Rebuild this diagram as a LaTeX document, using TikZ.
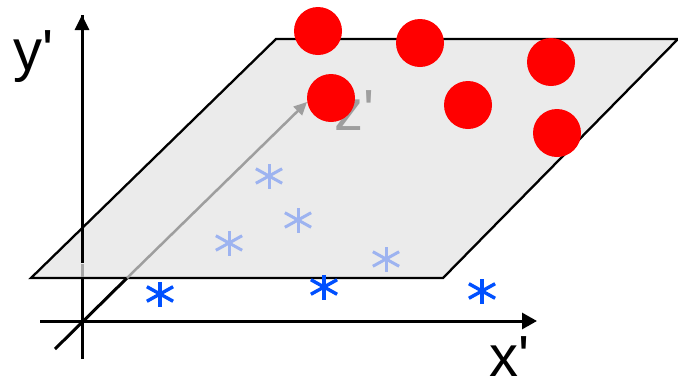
\documentclass[tikz,border=0pt]{standalone}
\usepackage{fontspec}
\setmainfont{Liberation Sans}[Ligatures=TeXOff]
\usetikzlibrary{arrows.meta}
\definecolor{planegray}{HTML}{EBEBEB}
\definecolor{zgray}{HTML}{9E9E9E}
\definecolor{darkstar}{HTML}{0050FF}
\definecolor{lightstar}{HTML}{9DB3F0}
\begin{document}
\begin{tikzpicture}[x=1pt,y=-1pt,
  axis/.style={line width=3pt,black},
  planeedge/.style={line width=2.3pt,black,fill=planegray,line join=miter},
  ball/.style={circle,fill=red,minimum size=48pt,inner sep=0pt},
  lbl/.style={font=\fontsize{58}{60}\selectfont,inner sep=0pt,anchor=base west},
  starlight/.style={lightstar,line width=3pt},
  stardark/.style={darkstar,line width=3.4pt},
  pics/asterisk/.style={code={
    \draw[#1] (90:12.5) -- (270:12.5);
    \draw[#1] (29:15) -- (209:15);
    \draw[#1] (151:15) -- (331:15);
  }}
]
\useasboundingbox (0,0) rectangle (678,381);
% coordinates
\coordinate (ybot) at (82,359);
\coordinate (ytop) at (82,15);
\coordinate (xleft) at (40,321);
\coordinate (xright) at (537,321);
\coordinate (zbot) at (55,349);
\coordinate (zmid) at (127,278);
\coordinate (ztop) at (307,102);
\coordinate (pbl) at (31,278);
\coordinate (pbr) at (443,278);
\coordinate (ptr) at (678,39);
\coordinate (ptl) at (276,39);
% axes behind plane
\draw[axis] (ybot) -- (ytop);
\draw[axis] (zbot) -- (zmid);
% plane
\draw[planeedge] (pbl) -- (pbr) -- (ptr) -- (ptl) -- cycle;
% y axis over plane (dark part) and faint part
\draw[axis] (82,263) -- (ytop);
\draw[axis,-{Triangle[length=15pt,width=14pt]}] (82,100) -- (ytop);
\draw[line width=3pt,black!35] (82,264) -- (82,277);
% x axis
\draw[axis,-{Triangle[length=15pt,width=16pt]}] (xleft) -- (xright);
% z' label and arrow
\node[lbl,text=zgray] (zl) at (334,130) {z'};
\draw[line width=2.5pt,zgray,-{Triangle[length=13pt,width=12pt]}] (zmid) -- (ztop);
% labels
\node[lbl] (yl) at (13,70) {y'};
\node[lbl] (xl) at (489,376) {\raisebox{0pt}[\height][0pt]{x'}};
% red balls
\node[ball] (b1) at (318,31) {};
\node[ball] (b2) at (420,43) {};
\node[ball] (b3) at (551,62) {};
\node[ball] (b4) at (331,98) {};
\node[ball] (b5) at (468,105) {};
\node[ball] (b6) at (557,133) {};
% light asterisks
\pic at (269,176) {asterisk=starlight};
\pic at (298,220) {asterisk=starlight};
\pic at (229,243) {asterisk=starlight};
\pic at (386,259) {asterisk=starlight};
% dark asterisks
\pic at (160,294) {asterisk=stardark};
\pic at (324,287) {asterisk=stardark};
\pic at (482,291) {asterisk=stardark};
\end{tikzpicture}
\end{document}
